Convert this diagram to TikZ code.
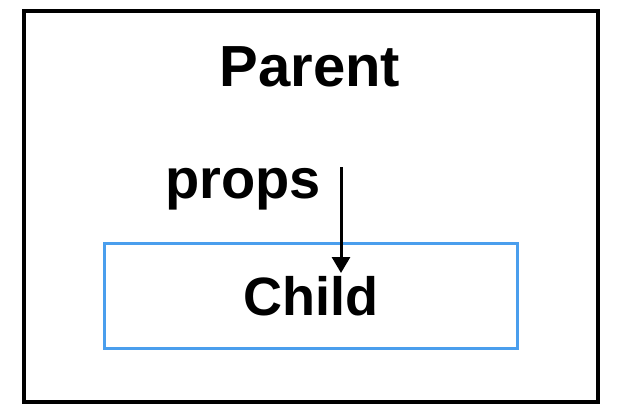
\documentclass[tikz,border=0pt]{standalone}
\usepackage{fontspec}
\setmainfont{Liberation Sans}
\usetikzlibrary{arrows.meta, positioning}
\definecolor{childblue}{RGB}{74,158,237}

\begin{document}
\begin{tikzpicture}[x=1pt, y=-1pt,
  label text/.style={font=\fontsize{#1}{#1}\selectfont\bfseries, anchor=base, inner sep=0pt},
  label text/.default=54,
  box/.style={draw, inner sep=0pt}]
\useasboundingbox (0,0) rectangle (628,412);
% Parent
\node[box, line width=4pt, minimum width=574pt, minimum height=391pt] (parent) at (311,206.5) {};
\node[label text=58] (parentlabel) at (310,86) {Parent};
% Child
\node[box, draw=childblue, line width=3pt, minimum width=413pt, minimum height=105pt] (child) at (310.5,295.5) {};
\node[label text] (childlabel) at (311,315) {Child};
% props
\node[label text=56] (props) at (243,198) {props};
\coordinate (propsfrom) at (341,167);
\coordinate (propsto) at (341,273);
\draw[line width=3pt, -{Triangle[width=18pt, length=16pt]}] (propsfrom) -- (propsto);
\end{tikzpicture}
\end{document}
